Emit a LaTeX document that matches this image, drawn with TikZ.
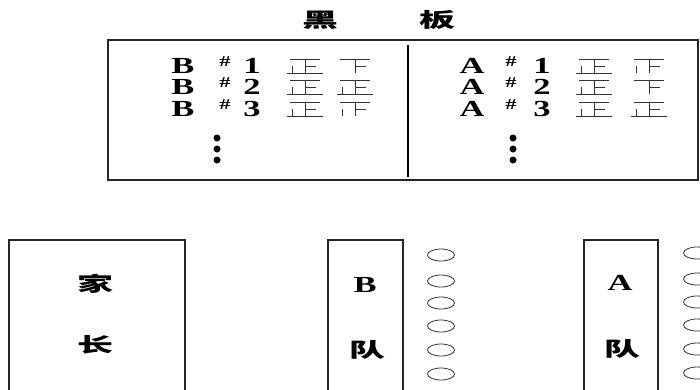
\documentclass[tikz,border=0pt]{standalone}
\usepackage{fontspec}
\setmainfont[FakeStretch=1.5]{Liberation Serif}
\newfontfamily\cjk[FakeStretch=1.8]{Noto Sans CJK SC}
\usetikzlibrary{shapes.geometric}
\tikzset{
    frame/.style={draw=black!85, line width=1.2pt},
    hanzi/.style={font=\cjk\bfseries\fontsize{20}{20}\selectfont, inner sep=0pt},
    letter/.style={font=\bfseries\fontsize{23}{23}\selectfont, inner sep=0pt, text height=15pt, text depth=0pt},
    hashmark/.style={font=\bfseries\fontsize{15}{15}\selectfont, inner sep=0pt, text height=9pt, text depth=0pt},
    tallyline/.style={draw=black!80, line width=0.9pt},
    seat/.style={ellipse, draw=black!80, line width=0.8pt, minimum width=27pt, minimum height=12pt, inner sep=0pt},
}
% one tally mark, drawn stroke by stroke (5 strokes = full)
\newcommand{\tally}[2]{%
  \begin{scope}[shift={(#1)}]
    \draw[tallyline] (-15,-7) -- (15,-7);
    \draw[tallyline] (0,-7) -- (0,7);
    \draw[tallyline] (0,0) -- (11,0);
    \ifnum#2>3 \draw[tallyline] (-13,0) -- (-13,7); \fi
    \ifnum#2>4 \draw[tallyline] (-18,7) -- (18,7); \fi
  \end{scope}}
\begin{document}
\begin{tikzpicture}[x=1pt, y=-1pt]
    \useasboundingbox (0,0) rectangle (700,389);

    % Blackboard
    \node[hanzi] (hei) at (320,20) {黑};
    \node[hanzi] (ban) at (437,20) {板};
    \draw[frame] (108,40) rectangle (698,180);
    \draw[line width=1.2pt] (408,45) -- (408,177);

    % Scores of team B
    \foreach \n/\y/\t in {1/66/3, 2/87/5, 3/109/4} {
        \node[letter] (b\n) at (183,\y) {B};
        \node[hashmark] (bh\n) at (225,\y-4) {\#};
        \node[letter] (bn\n) at (252,\y) {\n};
        \coordinate (bt\n) at (305,\y);
        \coordinate (bu\n) at (355,\y);
        \tally{bt\n}{5}
        \tally{bu\n}{\t}
    }
    % Scores of team A
    \foreach \n/\y/\t in {1/66/4, 2/87/3, 3/109/5} {
        \node[letter] (a\n) at (472,\y) {A};
        \node[hashmark] (ah\n) at (511,\y-4) {\#};
        \node[letter] (an\n) at (542,\y) {\n};
        \coordinate (at\n) at (594,\y);
        \coordinate (au\n) at (649,\y);
        \tally{at\n}{5}
        \tally{au\n}{\t}
    }
    % Dots
    \foreach \y in {138,149,160} {
        \fill (217,\y) circle (3.5pt);
        \fill (513,\y) circle (3.5pt);
    }

    % Parents
    \draw[frame] (9,240) rectangle (185,395);
    \node[hanzi] (jia) at (95,284) {家};
    \node[hanzi] (zhang) at (95,345) {长};

    % Team B
    \draw[frame] (328,240) rectangle (403,395);
    \node[letter] (bteam) at (365,285) {B};
    \node[hanzi] (bdui) at (367,350) {队};
    \foreach \y [count=\i] in {255,281,303,326,350,374}
        \node[seat] (bs\i) at (441,\y) {};

    % Team A
    \draw[frame] (584,240) rectangle (658,395);
    \node[letter] (ateam) at (620,283) {A};
    \node[hanzi] (adui) at (622,349) {队};
    \foreach \y [count=\i] in {253,279,302,325,349,373}
        \node[seat] (as\i) at (697,\y) {};
\end{tikzpicture}
\end{document}
